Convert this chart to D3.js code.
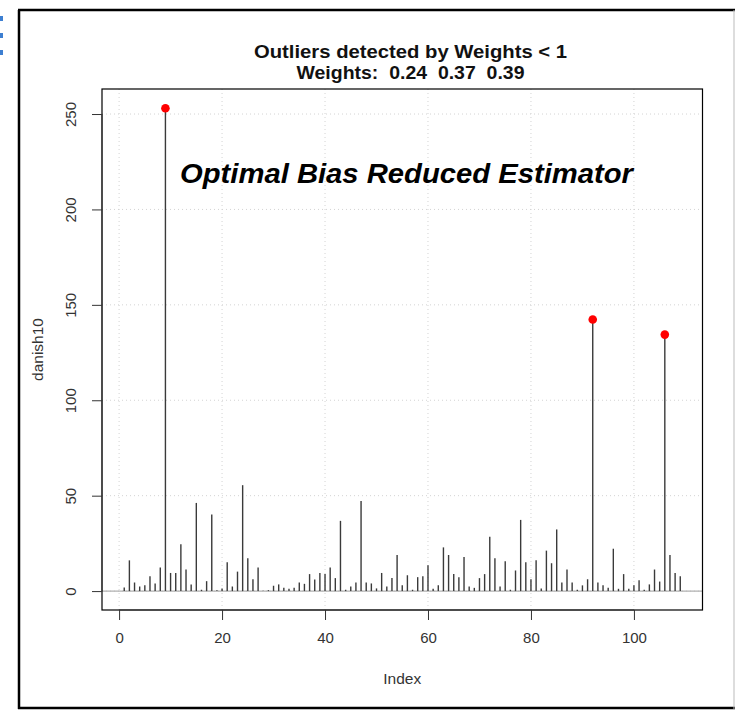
<!DOCTYPE html>
<html>
<head>
<meta charset="utf-8">
<script src="https://cdn.jsdelivr.net/npm/d3@7"></script>
<style>
  html, body { margin: 0; padding: 0; background: #fff; }
  svg { display: block; }
  text { white-space: pre; }
</style>
</head>
<body>
<svg id="chart" width="735" height="710"></svg>
<script>
// danish10 values, index 1..109
const danish10 = [
  1.9, 16.1, 4.5, 2.4, 3.0, 7.8, 4.0, 12.3, 253, 9.5,
  9.5, 24.5, 11.3, 3.5, 46.2, 0.7, 5.2, 40.1, 0.5, 1.4,
  15.1, 2.4, 10.2, 55.5, 17.2, 6.2, 12.3, 0.2, 0.5, 2.8,
  3.5, 1.7, 1.2, 1.7, 4.5, 3.8, 8.9, 6.1, 9.5, 8.9,
  12.3, 6.8, 36.8, 0.7, 2.4, 4.5, 47.2, 4.5, 4.0, 1.4,
  9.5, 2.4, 6.8, 18.9, 3.0, 8.3, 0.7, 7.3, 7.8, 13.5,
  1.2, 3.0, 22.9, 18.9, 8.9, 7.3, 17.9, 2.4, 1.7, 6.8,
  8.9, 28.5, 17.2, 2.4, 15.6, 0.7, 10.8, 37.3, 15.1, 6.2,
  16.1, 1.4, 21.2, 14.6, 32.3, 4.5, 11.3, 4.5, 0.7, 3.0,
  6.2, 142.3, 4.5, 3.0, 1.7, 22.2, 1.2, 8.9, 1.2, 3.0,
  5.7, 0.7, 3.5, 11.3, 5.0, 134.4, 18.9, 9.5, 7.8
];
const outlierIndex = [9, 92, 106];
const xTicks = [0, 20, 40, 60, 80, 100];
const yTicks = [0, 50, 100, 150, 200, 250];
const titleLines = ["Outliers detected by Weights < 1", "Weights:  0.24  0.37  0.39"];
const annotation = "Optimal Bias Reduced Estimator";

const svg = d3.select("#chart");
const font = "Liberation Sans, Arial, Helvetica, sans-serif";

// outer frame
svg.append("line").attr("x1", 19).attr("y1", 10).attr("x2", 19).attr("y2", 709)
  .attr("stroke", "#000").attr("stroke-width", 2.5);
svg.append("line").attr("x1", 18).attr("y1", 10).attr("x2", 735).attr("y2", 10)
  .attr("stroke", "#000").attr("stroke-width", 2.5);
svg.append("line").attr("x1", 18).attr("y1", 708).attr("x2", 735).attr("y2", 708)
  .attr("stroke", "#000").attr("stroke-width", 2.5);
svg.append("line").attr("x1", 734).attr("y1", 10).attr("x2", 734).attr("y2", 709)
  .attr("stroke", "#bbb").attr("stroke-width", 1);
// small blue marks at left edge
[16, 33, 50].forEach(y => svg.append("rect").attr("x", 0).attr("y", y).attr("width", 3).attr("height", 5).attr("fill", "#3d7fd1"));

const n = danish10.length;
const idx = d3.range(1, n + 1);
const xMin = 1 - 0.04 * (n - 1), xMax = n + 0.04 * (n - 1);
const yLo = d3.min(danish10), yHi = d3.max(danish10);
const yPad = 0.04 * (yHi - yLo);

const L = 102, R = 702.5, T = 89, B = 610;
const x = d3.scaleLinear().domain([xMin, xMax]).range([L, R]);
const y = d3.scaleLinear().domain([yLo - yPad, yHi + yPad]).range([B, T]);

// grid (dotted light gray)
const grid = svg.append("g");
xTicks.forEach(t => grid.append("line")
  .attr("x1", x(t)).attr("x2", x(t)).attr("y1", T).attr("y2", B)
  .attr("stroke", "#d3d3d3").attr("stroke-width", 1).attr("stroke-dasharray", "1,3"));
yTicks.forEach(t => grid.append("line")
  .attr("x1", L).attr("x2", R).attr("y1", y(t)).attr("y2", y(t))
  .attr("stroke", "#d3d3d3").attr("stroke-width", 1).attr("stroke-dasharray", "1,3"));

// zero line
svg.append("line").attr("x1", L).attr("x2", R).attr("y1", y(0)).attr("y2", y(0))
  .attr("stroke", "#b0b0b0").attr("stroke-width", 1.2);

// spikes
svg.append("g").selectAll("line").data(idx).join("line")
  .attr("x1", i => x(i)).attr("x2", i => x(i))
  .attr("y1", y(0)).attr("y2", i => y(danish10[i - 1]))
  .attr("stroke", "#3a3a3a").attr("stroke-width", 1.4);

// outlier points
svg.append("g").selectAll("circle").data(outlierIndex).join("circle")
  .attr("cx", i => x(i)).attr("cy", i => y(danish10[i - 1]))
  .attr("r", 4.3).attr("fill", "#ff0000");

// box
svg.append("rect").attr("x", L).attr("y", T).attr("width", R - L).attr("height", B - T)
  .attr("fill", "none").attr("stroke", "#000").attr("stroke-width", 1.2);

// x axis
const xAxis = svg.append("g").attr("transform", `translate(0,${B})`)
  .call(d3.axisBottom(x).tickValues(xTicks).tickSize(10).tickPadding(12).tickFormat(d3.format("d")));
xAxis.select(".domain").attr("d", `M${x(0)},0H${x(100)}`).attr("stroke", "#333");
xAxis.selectAll(".tick line").attr("stroke", "#333");
xAxis.selectAll("text").attr("font-family", font).attr("font-size", 15).attr("fill", "#333");

// y axis
const yAxis = svg.append("g").attr("transform", `translate(${L},0)`)
  .call(d3.axisLeft(y).tickValues(yTicks).tickSize(10).tickFormat(d3.format("d")));
yAxis.select(".domain").attr("d", `M0,${y(0)}V${y(250)}`).attr("stroke", "#333");
yAxis.selectAll(".tick line").attr("stroke", "#333");
yAxis.selectAll("text")
  .attr("font-family", font).attr("font-size", 15).attr("fill", "#333")
  .attr("x", null).attr("dy", null)
  .attr("transform", "translate(-32,0) rotate(-90)")
  .attr("text-anchor", "middle").attr("dominant-baseline", "central");

// axis titles
svg.append("text").attr("x", (L + R) / 2).attr("y", 684)
  .attr("text-anchor", "middle").attr("font-family", font).attr("font-size", 15.5).attr("fill", "#333")
  .text("Index");
svg.append("text").attr("transform", `translate(37,${(T + B) / 2}) rotate(-90)`)
  .attr("text-anchor", "middle").attr("dominant-baseline", "central")
  .attr("font-family", font).attr("font-size", 15.5).attr("fill", "#333")
  .text("danish10");

// main title (slightly wide glyphs as in the reference)
const titleWidths = [313, 228];
titleLines.forEach((t, k) => svg.append("text")
  .attr("x", 410.5 - titleWidths[k] / 2).attr("y", 58 + k * 21)
  .attr("textLength", titleWidths[k]).attr("lengthAdjust", "spacingAndGlyphs")
  .attr("font-family", font).attr("font-weight", "bold")
  .attr("font-size", 17.5).attr("fill", "#111").text(t));

// annotation
svg.append("text").attr("x", 180).attr("y", 183)
  .attr("textLength", 453).attr("lengthAdjust", "spacingAndGlyphs")
  .attr("font-family", font).attr("font-weight", "bold").attr("font-style", "italic")
  .attr("font-size", 28.5).attr("fill", "#000").text(annotation);
</script>
</body>
</html>
